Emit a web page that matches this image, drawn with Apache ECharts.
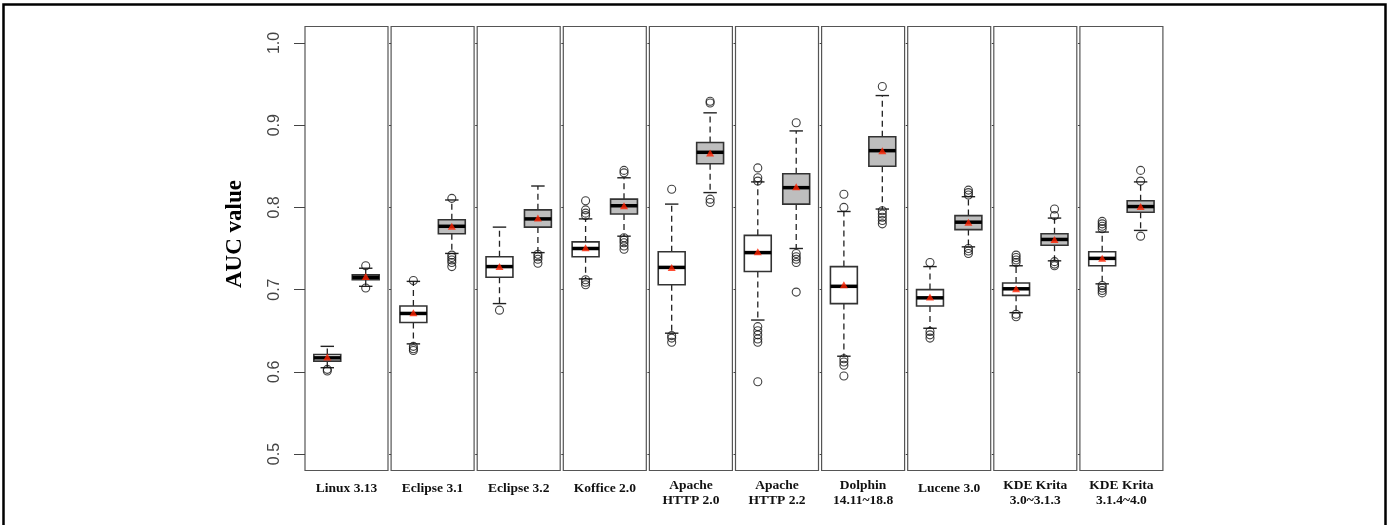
<!DOCTYPE html>
<html>
<head>
<meta charset="utf-8">
<script src="https://cdn.jsdelivr.net/npm/echarts@6/dist/echarts.min.js"></script>
<style>
  html, body { margin: 0; padding: 0; background: #fff; }
  #chart { width: 1398px; height: 525px; }
</style>
</head>
<body>
<div id="chart"></div>
<script>
const projects = [
  'Linux 3.13', 'Eclipse 3.1', 'Eclipse 3.2', 'Koffice 2.0', 'Apache\nHTTP 2.0',
  'Apache\nHTTP 2.2', 'Dolphin\n14.11~18.8', 'Lucene 3.0', 'KDE Krita\n3.0~3.1.3', 'KDE Krita\n3.1.4~4.0'
];
const yTicks = [0.5, 0.6, 0.7, 0.8, 0.9, 1.0];

// [lower whisker, Q1, median, Q3, upper whisker]
const whiteBoxes = [
  [0.605, 0.613, 0.617, 0.621, 0.631],
  [0.634, 0.660, 0.671, 0.680, 0.710],
  [0.683, 0.715, 0.728, 0.740, 0.776],
  [0.713, 0.740, 0.750, 0.758, 0.786],
  [0.647, 0.706, 0.727, 0.746, 0.804],
  [0.663, 0.722, 0.745, 0.766, 0.831],
  [0.619, 0.683, 0.704, 0.728, 0.795],
  [0.653, 0.680, 0.690, 0.700, 0.728],
  [0.672, 0.693, 0.701, 0.708, 0.729],
  [0.707, 0.729, 0.738, 0.746, 0.770]
];
const grayBoxes = [
  [0.704, 0.712, 0.715, 0.718, 0.726],
  [0.744, 0.768, 0.777, 0.785, 0.809],
  [0.745, 0.776, 0.786, 0.797, 0.826],
  [0.765, 0.792, 0.802, 0.810, 0.836],
  [0.818, 0.853, 0.867, 0.879, 0.915],
  [0.750, 0.804, 0.824, 0.841, 0.893],
  [0.798, 0.850, 0.869, 0.886, 0.936],
  [0.752, 0.773, 0.782, 0.790, 0.813],
  [0.735, 0.754, 0.761, 0.768, 0.787],
  [0.772, 0.794, 0.801, 0.808, 0.831]
];
const whiteMeans = [0.618, 0.672, 0.728, 0.751, 0.727, 0.746, 0.706, 0.691, 0.701, 0.738];
const grayMeans = [0.716, 0.777, 0.787, 0.802, 0.866, 0.825, 0.869, 0.782, 0.761, 0.801];

const whiteOutliers = [
  [0.603, 0.601],
  [0.711, 0.631, 0.628, 0.626],
  [0.675],
  [0.808, 0.797, 0.793, 0.790, 0.712, 0.709, 0.706],
  [0.822, 0.644, 0.641, 0.636],
  [0.848, 0.836, 0.832, 0.655, 0.650, 0.645, 0.640, 0.636, 0.588],
  [0.816, 0.800, 0.616, 0.612, 0.608, 0.595],
  [0.733, 0.649, 0.645, 0.641],
  [0.742, 0.739, 0.736, 0.733, 0.670, 0.667],
  [0.783, 0.780, 0.777, 0.774, 0.705, 0.702, 0.699, 0.696]
];
const grayOutliers = [
  [0.729, 0.702],
  [0.811, 0.742, 0.739, 0.736, 0.733, 0.728],
  [0.743, 0.740, 0.737, 0.732],
  [0.845, 0.842, 0.763, 0.760, 0.757, 0.753, 0.749],
  [0.929, 0.927, 0.810, 0.806],
  [0.903, 0.744, 0.740, 0.737, 0.733, 0.697],
  [0.947, 0.796, 0.792, 0.788, 0.784, 0.780],
  [0.821, 0.818, 0.815, 0.750, 0.747, 0.744],
  [0.798, 0.790, 0.734, 0.731, 0.729],
  [0.845, 0.832, 0.765]
];

// R style box: dashed whiskers, half-width staples, thick median
function renderBox(params, api) {
  const x = api.value(0);
  const lo = api.coord([x, api.value(1)]);
  const q1 = api.coord([x, api.value(2)]);
  const med = api.coord([x, api.value(3)]);
  const q3 = api.coord([x, api.value(4)]);
  const hi = api.coord([x, api.value(5)]);
  const cx = lo[0];
  const hw = api.size([0.7, 0])[0] / 2;
  const cw = hw / 2;
  const fill = params.dataIndex === 0 ? '#ffffff' : '#bebebe';
  const dash = { stroke: '#222', lineWidth: 1.3, lineDash: [6, 4] };
  const solid = { stroke: '#222', lineWidth: 1.4 };
  return {
    type: 'group',
    children: [
      { type: 'line', shape: { x1: cx, y1: q3[1], x2: cx, y2: hi[1] }, style: dash },
      { type: 'line', shape: { x1: cx, y1: q1[1], x2: cx, y2: lo[1] }, style: dash },
      { type: 'line', shape: { x1: cx - cw, y1: hi[1], x2: cx + cw, y2: hi[1] }, style: solid },
      { type: 'line', shape: { x1: cx - cw, y1: lo[1], x2: cx + cw, y2: lo[1] }, style: solid },
      { type: 'rect', shape: { x: cx - hw, y: q3[1], width: 2 * hw, height: q1[1] - q3[1] },
        style: { fill: fill, stroke: '#333', lineWidth: 1.6 } },
      { type: 'line', shape: { x1: cx - hw, y1: med[1], x2: cx + hw, y2: med[1] },
        style: { stroke: '#000', lineWidth: 3.5 } }
    ]
  };
}

const panelLeft = 305, panelStep = 86.1, panelWidth = 83;
const panelTop = 26.5, panelHeight = 444;

const grids = [], xAxes = [], yAxes = [], series = [];

projects.forEach((name, i) => {
  grids.push({
    left: panelLeft + i * panelStep, top: panelTop, width: panelWidth, height: panelHeight,
    show: true, borderColor: '#555', borderWidth: 1.2, backgroundColor: 'transparent'
  });
  xAxes.push({
    gridIndex: i, type: 'value', min: 0.42, max: 2.58,
    name: name, nameLocation: 'middle',
    nameGap: name.includes('\n') ? 7 : 10.5,
    nameTextStyle: {
      fontFamily: '"Liberation Serif", "Times New Roman", serif',
      fontWeight: 'bold', fontSize: 13.5, color: '#111', lineHeight: 15.3
    },
    axisLine: { show: false }, axisTick: { show: false },
    axisLabel: { show: false }, splitLine: { show: false }
  });
  yAxes.push({
    gridIndex: i, type: 'value', min: 0.48, max: 1.02,
    axisLine: { show: false }, splitLine: { show: false },
    axisTick: { show: true, length: i === 0 ? 11 : 2, customValues: yTicks, lineStyle: { color: '#444', width: 1 } },
    axisLabel: {
      show: i === 0, customValues: yTicks, rotate: 90, margin: 22,
      formatter: v => v.toFixed(1),
      fontSize: 16, color: '#444', fontFamily: '"Liberation Sans", Arial, sans-serif'
    }
  });
  series.push({
    type: 'custom', xAxisIndex: i, yAxisIndex: i, silent: true,
    data: [[1, ...whiteBoxes[i]], [2, ...grayBoxes[i]]],
    renderItem: renderBox, z: 2
  });
  series.push({
    type: 'scatter', xAxisIndex: i, yAxisIndex: i, silent: true,
    data: whiteOutliers[i].map(v => [1, v]).concat(grayOutliers[i].map(v => [2, v])),
    symbol: 'circle', symbolSize: 8,
    itemStyle: { color: 'transparent', borderColor: '#111', borderWidth: 1.1 }, z: 3
  });
  series.push({
    type: 'scatter', xAxisIndex: i, yAxisIndex: i, silent: true,
    data: [[1, whiteMeans[i]], [2, grayMeans[i]]],
    symbol: 'triangle', symbolSize: [8, 7],
    itemStyle: { color: '#ff2200' }, z: 4
  });
});

const chart = echarts.init(document.getElementById('chart'));
chart.setOption({
  animation: false,
  backgroundColor: '#fff',
  grid: grids,
  xAxis: xAxes,
  yAxis: yAxes,
  series: series,
  graphic: [
    {
      type: 'rect', silent: true,
      shape: { x: 3.5, y: 4.5, width: 1382, height: 600 },
      style: { fill: 'none', stroke: '#000', lineWidth: 2.5 }
    },
    {
      type: 'text', silent: true, x: 235, y: 234, rotation: Math.PI / 2,
      style: {
        text: 'AUC value', align: 'center', verticalAlign: 'middle',
        font: 'bold 23px "Liberation Serif", "Times New Roman", serif', fill: '#000'
      }
    }
  ]
});
</script>
</body>
</html>
